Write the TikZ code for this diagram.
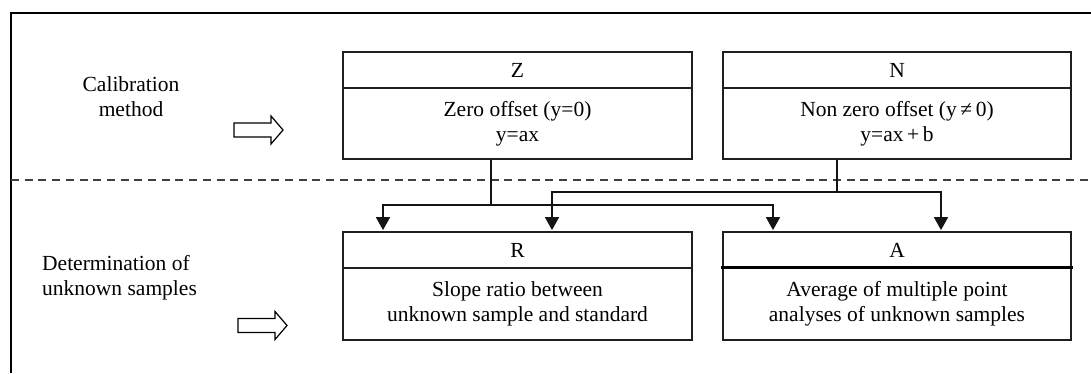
\documentclass[tikz,border=0pt]{standalone}
\usepackage{fontspec}
\setmainfont{Liberation Serif}
\usetikzlibrary{arrows.meta,calc}
\begin{document}
\begin{tikzpicture}[x=1pt,y=-1pt,
  txt/.style={font=\fontsize{21.5}{25}\selectfont, inner sep=0pt},
  boxpart/.style={draw=black!88, line width=1.4pt, minimum width=349pt, inner sep=0pt, align=center, font=\fontsize{21.5}{25}\selectfont},
  conn/.style={draw=black!92, line width=1.6pt},
  arr/.style={conn, -{Triangle[width=14pt,length=13pt]}, shorten >=1.2pt},
  hollow/.style={draw=black, line width=1.2pt, fill=white, line join=miter},
  sep/.style={draw=black!75, line width=1.2pt, dash pattern=on 8pt off 5.7pt},
  frame/.style={draw=black, line width=1.5pt}
]
\useasboundingbox (0,0) rectangle (1091,373);

% outer frame (cut by the page)
\coordinate (fbl) at (11,373);
\coordinate (ftl) at (11,13);
\coordinate (ftr) at (1091,13);
\draw[frame] (fbl) -- (ftl) -- (ftr);

% separator
\coordinate (dl) at (11,180);
\coordinate (dr) at (1091,180);
\draw[sep] (dl) -- (dr);

% row labels
\node[txt, align=center] (cal) at (131,97) {Calibration\\method};
\node[txt, align=left, anchor=west] (det) at (42,277.5) {Determination of\\unknown samples};

% hollow arrows
\coordinate (ha1) at (234,123);
\draw[hollow] (ha1) -- ++(37,0) -- ++(0,-7) -- ++(12,14) -- ++(-12,14) -- ++(0,-7) -- ++(-37,0) -- cycle;
\coordinate (ha2) at (238,318.5);
\draw[hollow] (ha2) -- ++(37,0) -- ++(0,-7) -- ++(12,14) -- ++(-12,14) -- ++(0,-7) -- ++(-37,0) -- cycle;

% calibration boxes
\node[boxpart, minimum height=36pt] (Zt) at (517.5,70) {Z};
\node[boxpart, minimum height=71pt] (Zb) at (517.5,123.5) {Zero offset (y=0)\\y=ax};
\node[boxpart, minimum width=348pt, minimum height=36pt] (Nt) at (897,70) {N};
\node[boxpart, minimum width=348pt, minimum height=71pt] (Nb) at (897,123.5) {Non zero offset (y\,≠\,0)\\y=ax\,+\,b};

% determination boxes
\node[boxpart, minimum height=36pt] (Rt) at (517.5,250) {R};
\node[boxpart, minimum height=72pt] (Rb) at (517.5,304) {Slope ratio between\\unknown sample and standard};
\node[boxpart, minimum width=348pt, minimum height=36pt] (At) at (897,250) {A};
\node[boxpart, minimum width=348pt, minimum height=72pt] (Ab) at (897,304) {Average of multiple point\\analyses of unknown samples};
\draw[line width=2.4pt, black] ([xshift=-1.5pt]Ab.north west) -- ([xshift=1.5pt]Ab.north east);

% connectors
\coordinate (zj) at (491,205);
\coordinate (zl) at (383,205);
\coordinate (zr) at (773,205);
\coordinate (nj) at (837,192);
\coordinate (nl) at (552,192);
\coordinate (nr) at (941,192);
\draw[conn] (Zb.south -| zj) -- (zj);
\draw[arr] (zj) -- (zl) -- (Rt.north -| zl);
\draw[arr] (zj) -- (zr) -- (At.north -| zr);
\draw[conn] (Nb.south -| nj) -- (nj);
\draw[arr] (nj) -- (nl) -- (Rt.north -| nl);
\draw[arr] (nj) -- (nr) -- (At.north -| nr);
\end{tikzpicture}
\end{document}
